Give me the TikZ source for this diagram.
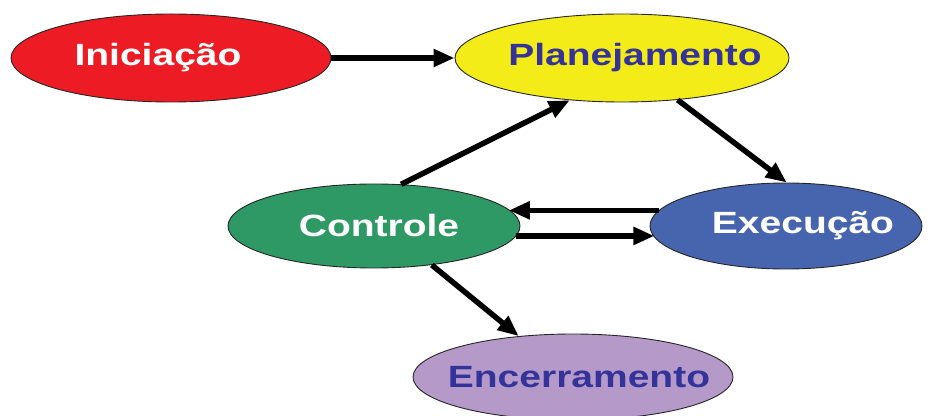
\documentclass[tikz,border=0pt]{standalone}
\usepackage{fontspec}
\usetikzlibrary{shapes.geometric,arrows.meta}
\newfontfamily\phasefont[FakeStretch=1.27]{Liberation Sans}
\definecolor{phRed}{HTML}{ED1C24}
\definecolor{phYellow}{HTML}{F3EC19}
\definecolor{phGreen}{HTML}{2F9966}
\definecolor{phBlue}{HTML}{4765AF}
\definecolor{phPurple}{HTML}{B59AC9}
\definecolor{phInk}{HTML}{333399}
% label of zero width so the ellipse size comes from minimum width/height only;
% the first argument moves the text sideways
\newcommand{\phaselabel}[2]{\makebox[0pt]{\hspace{#1}#2}}
\begin{document}
\begin{tikzpicture}[x=1pt,y=1pt,
  phase/.style={ellipse, draw=black!85, line width=0.9pt, inner sep=0pt,
    font=\phasefont\bfseries\fontsize{30.7}{32}\selectfont},
  flow/.style={line width=5.5pt, -{Triangle[length=21pt,width=17pt]}}]
\useasboundingbox (0,0) rectangle (931,415);

% the five project phases
\node[phase, fill=phRed, text=white, minimum width=320pt, minimum height=88pt]
  (ini) at (171,357) {\phaselabel{-26pt}{Iniciação}};
\node[phase, fill=phYellow, text=phInk, minimum width=334pt, minimum height=88pt]
  (plan) at (622,357) {\phaselabel{26pt}{Planejamento}};
\node[phase, fill=phGreen, text=white, minimum width=292pt, minimum height=84pt]
  (ctrl) at (374,189) {\phaselabel{10pt}{Controle}};
\node[phase, fill=phBlue, text=white, minimum width=272pt, minimum height=86pt]
  (exec) at (786,189) {\phaselabel{34pt}{Execução}};
\node[phase, fill=phPurple, text=phInk, minimum width=320pt, minimum height=86pt]
  (enc) at (573,38) {\phaselabel{12pt}{Encerramento}};

% transitions between phases
\draw[flow] (ini.east) -- (plan.west);
\draw[flow] (plan.-37) -- (exec.89);
\draw[flow] (ctrl.57.5) -- (plan.219);
\draw[flow] (exec.173) -- (ctrl.7 |- exec.173);
\draw[flow] (ctrl.-4.9) -- (exec.185.3 |- ctrl.-4.9);
\draw[flow] (ctrl.-34) -- (enc.143.5);
\end{tikzpicture}
\end{document}
